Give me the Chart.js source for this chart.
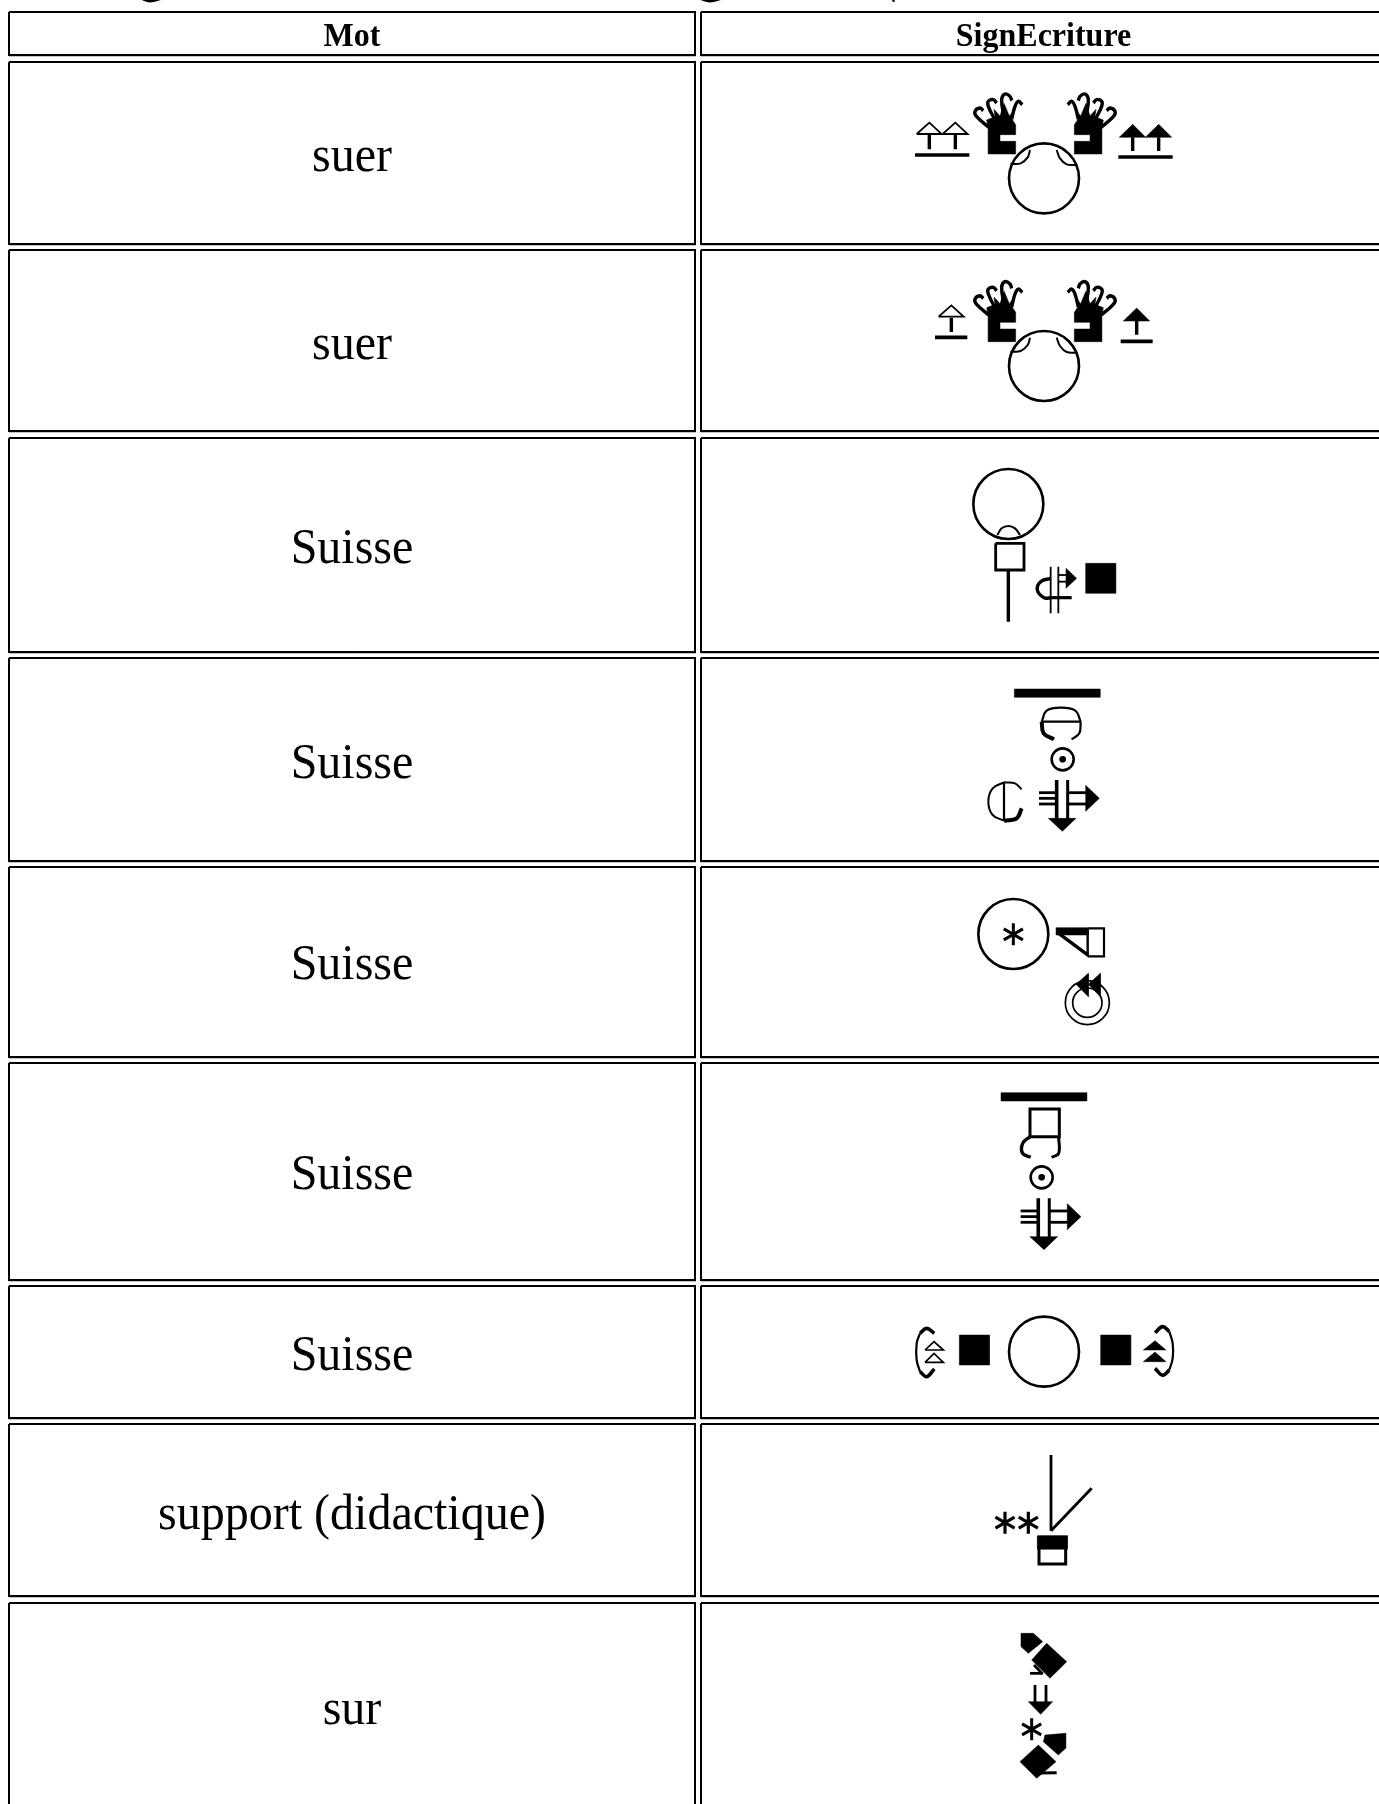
<!DOCTYPE html>
<html>
<head>
<meta charset="utf-8">
<script src="https://cdn.jsdelivr.net/npm/chart.js@4/dist/chart.umd.js"></script>
<style>
  html, body { margin: 0; background: #fff; }
  canvas { display: block; }
</style>
</head>
<body>
<canvas id="signTable" width="1379" height="1804"></canvas>
<script>
// table content
const headers = ["Mot", "SignEcriture"];
const words = ["suer", "suer", "Suisse", "Suisse", "Suisse", "Suisse", "Suisse", "support (didactique)", "sur"];
const baselines = [171, 359, 563, 778, 979, 1189, 1370, 1529, 1724];
const headerBaseline = 46;
const columnLefts = [9, 701];
const columnRights = [695, 1386];
const rowTops = [12, 62, 250, 438, 658, 867, 1063, 1286, 1424, 1603];
const rowBottoms = [55, 244, 431, 652, 861, 1057, 1280, 1418, 1596, 1830];

// stroke shapes, coordinates are in crop units (3 units = 1 px)
const line = (w, ...c) => ({ kind: "line", w, c });
const curve = (w, ...c) => ({ kind: "curve", w, c });
const solid = (...c) => ({ kind: "solid", c });
const ring = (x, y, r, w) => ({ kind: "ring", x, y, r, w });
const dot = (x, y, r) => ({ kind: "dot", x, y, r });
const star = (x, y, s, w) => [
  line(w, x, y - s, x, y + s),
  line(w, x - s * 0.87, y - s * 0.5, x + s * 0.87, y + s * 0.5),
  line(w, x + s * 0.87, y - s * 0.5, x - s * 0.87, y + s * 0.5)
];

const hand = [
  solid(325,252, 407,252, 407,214, 360,214, 360,194, 407,194, 407,164, 395,146, 402,120, 388,138, 372,100, 360,138, 342,118, 345,140, 320,150, 325,179),
  curve(3.4, 330,175, 290,140, 285,124, 300,114, 310,122),
  curve(3.4, 345,150, 325,109, 325,94, 340,89, 350,99),
  curve(3.4, 372,140, 365,89, 375,72, 390,79, 395,92),
  curve(3.4, 395,148, 405,109, 415,94, 427,104)
];
const browHead = [
  ring(492, 325, 105, 2.6),
  curve(2, 392,282, 422,280, 443,262, 450,240),
  curve(2, 530,240, 540,265, 560,283, 590,285)
];
const arrowHollow = [
  line(1.8, 110,192, 148,158, 185,192, 110,192),
  line(3.4, 148,195, 148,238)
];
const arrowSolid = [
  solid(718,202, 758,163, 797,202),
  line(3.4, 758,202, 758,243)
];
const chinHead = [
  ring(265, 162, 105, 2.6),
  curve(2, 232,255, 245,235, 265,228, 285,235, 300,255)
];
const dotRing = [ring(428, 928, 33, 2.6), dot(428, 928, 10)];
const crossArrow = [
  line(3.6, 410,990, 410,1108),
  line(3, 443,990, 443,1108),
  line(2.8, 357,1028, 408,1028),
  line(2.8, 357,1045, 408,1045),
  line(2.8, 357,1062, 408,1062),
  line(2.8, 443,1028, 500,1028),
  line(2.8, 443,1062, 500,1062),
  solid(497,1006, 538,1045, 497,1084),
  solid(385,1105, 427,1144, 468,1105)
];
const blackBar = [solid(283,717, 540,717, 540,742, 283,742)];
const blackSquare = [solid(0,0, 90,0, 90,90, 0,90)];

const signSuerTwo = [
  line(3.6, 105,255, 268,255),
  line(3.6, 715,261, 878,261)
];
const signSuerOne = [
  line(3.6, 165,802, 262,802),
  line(3.6, 722,814, 818,814)
];
const signSuisseA = [
  ...chinHead,
  line(2.8, 227,280, 312,280, 312,360, 227,360, 227,280),
  line(3.4, 265,360, 265,515),
  line(1.8, 392,350, 392,490),
  line(1.8, 415,350, 415,490),
  curve(3.4, 392,385, 362,395, 352,420, 372,443, 395,443),
  line(3.2, 392,443, 455,443),
  line(1.8, 415,375, 440,375),
  line(1.8, 415,395, 440,395),
  solid(438,355, 470,385, 438,415)
];
const signSuisseB = [
  curve(2.2, 365,815, 380,782, 422,773, 466,782, 482,815),
  line(2.2, 365,815, 482,815),
  curve(4, 365,815, 371,850, 402,868),
  curve(2.2, 482,815, 478,850, 455,868),
  line(2.2, 252,997, 252,1112),
  curve(2, 252,997, 218,1015, 205,1055, 218,1095, 252,1112),
  curve(2, 252,997, 285,1000, 305,1018),
  curve(4, 252,1112, 290,1105, 305,1075)
];
const signSuisseC = [
  ring(220, 162, 105, 2.6),
  ...star(220, 163, 33, 3),
  solid(348,143, 445,143, 445,165, 348,165),
  line(3.4, 356,160, 445,226),
  line(2.4, 443,150, 443,229),
  line(2.2, 445,145, 492,145, 492,229, 443,229),
  ring(442, 368, 66, 1.7),
  ring(442, 368, 44, 1.7),
  solid(408,313, 445,280, 445,350),
  solid(445,313, 481,280, 481,350)
];
const signSuisseD = [
  solid(183,638, 440,638, 440,663, 183,663),
  line(3, 270,770, 270,687, 358,687, 358,770, 270,770),
  curve(3.4, 270,770, 248,790, 248,820, 272,832),
  curve(3, 356,770, 356,820, 335,832)
];
const signSuisseE = [
  ring(462, 155, 105, 2.6),
  curve(2.2, 90,100, 80,130, 80,180, 90,215),
  curve(3.6, 90,100, 110,85, 133,100),
  curve(3.6, 90,215, 110,230, 133,207),
  line(1.7, 105,150, 132,125, 160,150, 105,150),
  line(1.7, 105,187, 132,160, 160,187, 105,187),
  curve(2.2, 838,95, 848,130, 848,175, 838,210),
  curve(3.6, 795,98, 818,80, 838,95),
  curve(3.6, 795,205, 818,226, 838,210),
  solid(760,150, 795,122, 828,150),
  solid(760,185, 795,156, 828,185)
];
const signSupport = [
  line(2.8, 483,465, 483,692),
  line(2.8, 483,692, 605,565),
  ...star(345, 668, 33, 3.2),
  ...star(415, 668, 33, 3.2),
  solid(442,707, 532,707, 532,748, 442,748),
  line(3, 447,712, 527,712, 527,792, 447,792, 447,712)
];
const signSur = [
  solid(393,1000, 430,1000, 458,1025, 415,1060, 393,1040),
  solid(470,1030, 530,1085, 480,1135, 425,1080),
  line(2.8, 420,1120, 458,1120),
  line(2.8, 458,1122, 432,1095),
  line(2.8, 435,1155, 435,1210),
  line(2.8, 468,1155, 468,1210),
  solid(415,1205, 452,1243, 488,1205),
  ...star(425, 1288, 33, 3),
  solid(465,1305, 527,1300, 527,1345, 505,1365, 460,1325),
  solid(445,1335, 498,1385, 440,1435, 390,1385),
  line(3, 450,1419, 500,1418)
];
const titleTails = [
  curve(3, 422,-6, 450,3, 488,-6),
  curve(3, 2097,-6, 2130,3, 2168,-6),
  line(2.5, 2682,0, 2679,5)
];

const datasets = [];
const xy = (c, ox, oy, axis) => {
  const pts = [];
  for (let i = 0; i < c.length; i += 2) {
    const cx = axis === undefined ? c[i] : axis - c[i];
    pts.push({ x: ox + cx / 3, y: oy + c[i + 1] / 3 });
  }
  return pts;
};

function put(glyph, ox, oy, axis) {
  glyph.forEach(g => {
    if (g.kind === "ring" || g.kind === "dot") {
      datasets.push({
        data: xy([g.x, g.y], ox, oy, axis),
        showLine: false,
        pointStyle: "circle",
        pointRadius: g.r / 3,
        pointBorderWidth: g.kind === "ring" ? g.w : 0,
        pointBorderColor: "#000",
        pointBackgroundColor: g.kind === "ring" ? "transparent" : "#000"
      });
    } else if (g.kind === "solid") {
      datasets.push({
        data: xy(g.c.concat(g.c[0], g.c[1]), ox, oy, axis),
        showLine: true,
        fill: "shape",
        backgroundColor: "#000",
        borderColor: "#000",
        borderWidth: 0.5,
        pointRadius: 0
      });
    } else {
      datasets.push({
        data: xy(g.c, ox, oy, axis),
        showLine: true,
        fill: false,
        tension: g.kind === "curve" ? 0.4 : 0,
        borderColor: "#000",
        borderWidth: g.w,
        pointRadius: 0
      });
    }
  });
}

// cell frames
function frame(left, right, top, bottom) {
  datasets.push({
    data: [{ x: left, y: top }, { x: right, y: top }, { x: right, y: bottom }, { x: left, y: bottom }, { x: left, y: top }],
    showLine: true, fill: false, borderColor: "#000", borderWidth: 2, pointRadius: 0
  });
  datasets.push({
    data: [{ x: left, y: bottom + 1.5 }, { x: right + 1, y: bottom + 1.5 }],
    showLine: true, fill: false, borderColor: "#c4c4c4", borderWidth: 1, pointRadius: 0
  });
}
rowTops.forEach((top, i) => {
  columnLefts.forEach((left, c) => frame(left, columnRights[c], top, rowBottoms[i]));
});

// rows 1 and 2 share the hands and the head
[[880, 70], [880, 257.7]].forEach(([ox, oy]) => {
  put(hand, ox, oy);
  put(hand, ox, oy, 990);
  put(browHead, ox, oy);
});
put(signSuerTwo, 880, 70);
put(arrowHollow, 880, 70);
put(arrowHollow, 906, 70);
put(arrowSolid, 880, 70);
put(arrowSolid, 906, 70);
put(signSuerOne, 880, 70);
put(arrowHollow, 902, 252.7);
put(arrowSolid, 884, 253.7);

put(signSuisseA, 920, 450);
put(blackSquare, 920 + 497 / 3, 450 + 340 / 3);
put(blackBar, 920, 450);
put(signSuisseB, 920, 450);
put(dotRing, 920, 450);
put(crossArrow, 920, 450);
put(signSuisseC, 940, 880);
put(signSuisseD, 940, 880);
put(dotRing, 899, 868);
put(crossArrow, 901.6, 868.3);
put(signSuisseE, 890, 1300);
put(blackSquare, 890 + 208 / 3, 1300 + 105 / 3);
put(blackSquare, 890 + 632 / 3, 1300 + 105 / 3);
put(signSupport, 890, 1300);
put(signSur, 890, 1300);
put(titleTails, 0, 0);

const tableText = {
  id: "tableText",
  afterDatasetsDraw(chart) {
    const { ctx, scales } = chart;
    const write = (text, font, col, base, stretch) => {
      ctx.save();
      ctx.translate(scales.x.getPixelForValue(col), scales.y.getPixelForValue(base));
      ctx.scale(1, stretch);
      ctx.font = font;
      ctx.fillStyle = "#000";
      ctx.textAlign = "center";
      ctx.textBaseline = "alphabetic";
      ctx.fillText(text, 0, 0);
      ctx.restore();
    };
    const centers = columnLefts.map((l, i) => (l + columnRights[i]) / 2);
    headers.forEach((h, i) => write(h, 'bold 32px "Liberation Serif"', centers[i], headerBaseline, 1.08));
    words.forEach((w, i) => write(w, '48px "Liberation Serif"', centers[0], baselines[i], 1.07));
  }
};

new Chart(document.getElementById("signTable"), {
  type: "scatter",
  data: { datasets },
  plugins: [tableText],
  options: {
    responsive: false,
    animation: false,
    events: [],
    layout: { padding: 0, autoPadding: false },
    plugins: { legend: { display: false }, tooltip: { enabled: false }, title: { display: false } },
    scales: {
      x: { type: "linear", min: 0, max: 1379, display: false },
      y: { type: "linear", min: 0, max: 1804, reverse: true, display: false }
    }
  }
});
</script>
</body>
</html>
